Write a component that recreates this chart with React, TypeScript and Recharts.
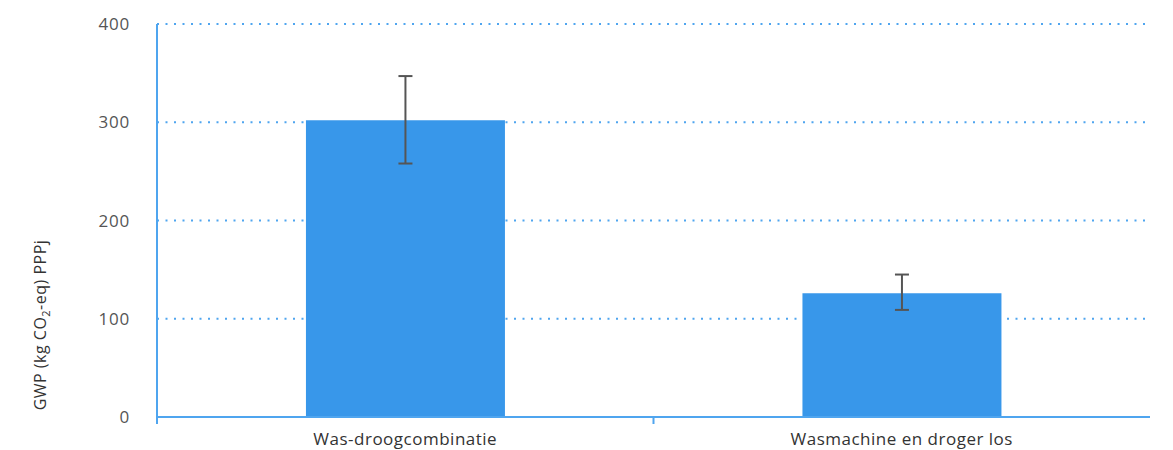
import { BarChart, Bar, XAxis, YAxis, CartesianGrid, ErrorBar, Label } from "recharts";

// values
const categories = ["Was-droogcombinatie", "Wasmachine en droger los"];
const gwpValues = [302, 126];
const errLow = [44, 17];
const errHigh = [45, 19];
const yTicks = [0, 100, 200, 300, 400];

const data = categories.map((name, i) => ({
  name,
  gwp: gwpValues[i],
  err: [errLow[i], errHigh[i]],
}));

const WIDTH = 1173;
const HEIGHT = 450;
const MARGIN = { top: 24, right: 23, bottom: 0, left: 0 };
const Y_WIDTH = 157;
const BAND = (WIDTH - MARGIN.left - MARGIN.right - Y_WIDTH) / categories.length;
const AXIS_BLUE = "#4fa5ef";
const FONT = "'Open Sans', sans-serif";

// label at band centre, small tick at the band's left edge
function CategoryTick({ x, y, payload }: any) {
  return (
    <g>
      <line x1={x - BAND / 2} x2={x - BAND / 2} y1={y} y2={y + 7} stroke={AXIS_BLUE} strokeWidth={2} />
      <text
        x={x}
        y={y + 28}
        textAnchor="middle"
        fill="#333"
        fontSize={17}
        letterSpacing={0.5}
        fontFamily={FONT}
      >
        {payload.value}
      </text>
    </g>
  );
}

function YTitle() {
  return (
    <text
      transform="translate(46,325) rotate(-90)"
      textAnchor="middle"
      fill="#333"
      fontSize={16}
      letterSpacing={0.5}
      fontFamily={FONT}
    >
      GWP (kg CO<tspan fontSize={11} dy={4}>2</tspan>
      <tspan dy={-4}>-eq) PPPj</tspan>
    </text>
  );
}

export default function App() {
  return (
    <div style={{ position: "absolute", left: 0, top: 0, background: "#fff" }}>
      <BarChart width={WIDTH} height={HEIGHT} data={data} margin={MARGIN} barCategoryGap="30%">
        <CartesianGrid
          vertical={false}
          stroke={AXIS_BLUE}
          strokeWidth={2}
          strokeDasharray="2 6.5"
        />
        <XAxis
          dataKey="name"
          height={33}
          axisLine={{ stroke: AXIS_BLUE, strokeWidth: 2 }}
          tickLine={false}
          tickSize={0}
          tickMargin={0}
          tick={<CategoryTick />}
          interval={0}
        />
        <YAxis
          width={Y_WIDTH}
          domain={[0, 400]}
          ticks={yTicks}
          axisLine={{ stroke: AXIS_BLUE, strokeWidth: 2 }}
          tickLine={false}
          tickSize={0}
          tickMargin={27}
          tick={{ fill: "#555", fontSize: 17, letterSpacing: 0.8, fontFamily: FONT }}
        >
          <Label content={<YTitle />} />
        </YAxis>
        <Bar dataKey="gwp" fill="#3897ea" isAnimationActive={false}>
          <ErrorBar dataKey="err" width={7} stroke="#555" strokeWidth={2} direction="y" />
        </Bar>
      </BarChart>
    </div>
  );
}
